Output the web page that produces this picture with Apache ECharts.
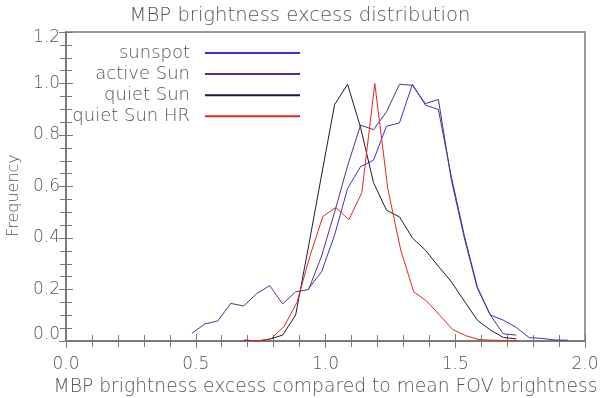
<!DOCTYPE html>
<html>
<head>
<meta charset="utf-8">
<script src="https://cdn.jsdelivr.net/npm/echarts@6/dist/echarts.min.js"></script>
<style>
    html, body { margin: 0; padding: 0; background: #fff; }
    #chart { width: 600px; height: 398px; }
</style>
</head>
<body>
<div id="chart"></div>
<script>
// 各序列的横坐标（bin 中心）和频率
const sunspotX = [0.935, 0.985, 1.035, 1.085, 1.135, 1.185, 1.235, 1.285, 1.335, 1.385, 1.435, 1.485, 1.535, 1.585, 1.635, 1.685, 1.735, 1.785, 1.835, 1.885, 1.935];
const sunspotY = [0.204, 0.269, 0.411, 0.592, 0.677, 0.702, 0.834, 0.847, 0.997, 0.916, 0.899, 0.638, 0.41, 0.21, 0.101, 0.081, 0.053, 0.013, 0.010, 0.004, 0.003];

const activeX = [0.485, 0.535, 0.585, 0.635, 0.685, 0.735, 0.785, 0.835, 0.885, 0.935, 0.985, 1.035, 1.085, 1.135, 1.185, 1.235, 1.285, 1.335, 1.385, 1.435, 1.485, 1.535, 1.585, 1.635, 1.685, 1.735];
const activeY = [0.030, 0.066, 0.078, 0.146, 0.136, 0.184, 0.215, 0.144, 0.191, 0.200, 0.33, 0.50, 0.68, 0.838, 0.821, 0.890, 0.997, 0.993, 0.922, 0.938, 0.625, 0.40, 0.205, 0.101, 0.028, 0.023];

const quietX = [0.685, 0.735, 0.785, 0.835, 0.885, 0.935, 0.985, 1.035, 1.085, 1.135, 1.185, 1.235, 1.285, 1.335, 1.385, 1.435, 1.485, 1.535, 1.585, 1.635, 1.685, 1.735];
const quietY = [0.003, 0.0, 0.007, 0.023, 0.101, 0.37, 0.645, 0.918, 0.997, 0.83, 0.615, 0.508, 0.482, 0.40, 0.353, 0.29, 0.230, 0.155, 0.081, 0.043, 0.014, 0.008];

const quietHrX = [0.69, 0.74, 0.79, 0.84, 0.89, 0.94, 0.99, 1.04, 1.09, 1.14, 1.19, 1.24, 1.29, 1.34, 1.39, 1.44, 1.49, 1.54, 1.59, 1.64, 1.69, 1.74];
const quietHrY = [0.004, 0.0, 0.009, 0.056, 0.15, 0.33, 0.484, 0.518, 0.471, 0.576, 1.0, 0.592, 0.353, 0.191, 0.155, 0.10, 0.045, 0.021, 0.006, 0.003, 0.002, 0.001];

const seriesNames = ["sunspot", "active Sun", "quiet Sun", "quiet Sun HR"];
const seriesColors = ["#3a30d8", "#5e2a8e", "#1c1a3c", "#e8261e"];

const fontName = "DejaVu Sans";
const textColor = "#555";
const axisColor = "#7a7a7a";

function pairs(xs, ys) {
    return xs.map((x, i) => [x, ys[i]]);
}
const seriesData = [pairs(sunspotX, sunspotY), pairs(activeX, activeY), pairs(quietX, quietY), pairs(quietHrX, quietHrY)];

// 坐标轴公共样式（IDL 风格：四周边框，刻度朝内）
function axisCommon(showLabel, splitNumber) {
    return {
        axisLine: { show: true, lineStyle: { color: axisColor, width: 1.5 } },
        axisTick: { show: true, inside: true, length: 7, lineStyle: { color: axisColor } },
        minorTick: { show: true, splitNumber: splitNumber, length: 6, lineStyle: { color: axisColor } },
        splitLine: { show: false },
        axisLabel: {
            show: showLabel,
            color: textColor,
            fontFamily: fontName,
            fontWeight: 200,
            fontSize: 17,
            formatter: (v) => v.toFixed(1),
        },
    };
}

// 每个图例单独一个组件，才能右对齐
const legends = seriesNames.map((name, i) => ({
    data: [name],
    orient: "vertical",
    align: "right",
    right: 300,
    top: 44 + i * 21.1,
    icon: "rect",
    itemWidth: 95,
    itemHeight: 2,
    padding: 0,
    selectedMode: false,
    textStyle: {
        color: textColor,
        fontFamily: fontName,
        fontWeight: 200,
        fontSize: 18,
        padding: [0, 10, 0, 0],
    },
}));

let option = {
    backgroundColor: "#fff",
    animation: false,
    title: {
        text: "MBP brightness excess distribution",
        left: "center",
        top: 1,
        textStyle: { color: textColor, fontFamily: fontName, fontWeight: 200, fontSize: 19.6 },
    },
    legend: legends,
    grid: {
        left: 66, right: 15, top: 32, bottom: 57,
        outerBoundsMode: "none",
        show: true,
        borderColor: axisColor,
        borderWidth: 1.5,
    },
    xAxis: [
        Object.assign(axisCommon(true, 5), {
            type: "value",
            position: "bottom",
            min: 0, max: 2, interval: 0.5,
            name: "MBP brightness excess compared to mean FOV brightness",
            nameLocation: "middle",
            nameGap: 33,
            nameTextStyle: { color: textColor, fontFamily: fontName, fontWeight: 200, fontSize: 18.7 },
        }),
        Object.assign(axisCommon(false, 5), {
            type: "value",
            position: "top",
            min: 0, max: 2, interval: 0.5,
        }),
    ],
    yAxis: [
        Object.assign(axisCommon(true, 4), {
            type: "value",
            position: "left",
            min: 0, max: 1.2, interval: 0.2,
            name: "Frequency",
            nameLocation: "middle",
            nameGap: 44,
            nameTextStyle: { color: textColor, fontFamily: fontName, fontWeight: 200, fontSize: 16, padding: [0, 18, 0, 0] },
        }),
        Object.assign(axisCommon(false, 4), {
            type: "value",
            position: "right",
            min: 0, max: 1.2, interval: 0.2,
        }),
    ],
    series: seriesNames.map((name, i) => ({
        name: name,
        type: "line",
        xAxisIndex: 0,
        yAxisIndex: 0,
        data: seriesData[i],
        symbol: "none",
        lineStyle: { color: seriesColors[i], width: 1 },
        itemStyle: { color: seriesColors[i] },
    })),
};

// y 轴标签右对齐；首尾标签用 rich 的 padding 收进边框内
const labelFont = { color: textColor, fontFamily: fontName, fontWeight: 200, fontSize: 17 };
option.yAxis[0].axisLabel.align = "right";
option.yAxis[0].axisLabel.margin = 6;
option.yAxis[0].axisLabel.formatter = (v) => {
    if (v === 0) return "{lo|0.0}";
    if (v >= 1.2) return "{hi|1.2}";
    return v.toFixed(1);
};
option.yAxis[0].axisLabel.rich = {
    lo: Object.assign({ padding: [0, 0, 12, 0] }, labelFont),
    hi: Object.assign({ padding: [12, 0, 0, 0] }, labelFont),
};
option.xAxis[0].axisLabel.margin = 15;

const chartObj = echarts.init(document.getElementById("chart"));
chartObj.setOption(option);
</script>
</body>
</html>
